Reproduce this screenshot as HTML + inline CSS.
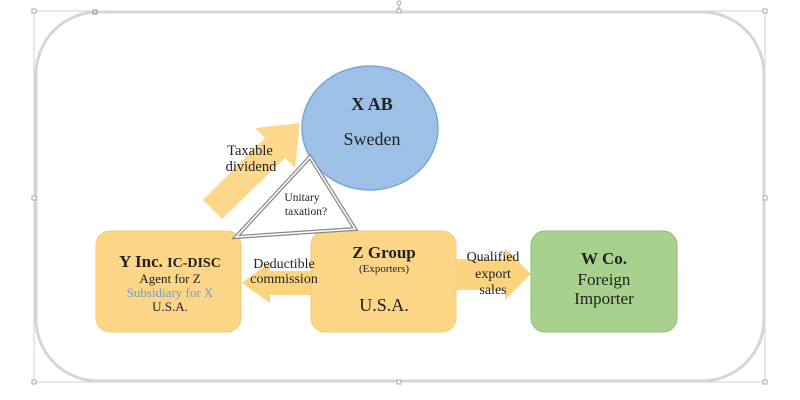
<!DOCTYPE html>
<html><head><style>body{margin:0;background:#fff}svg{display:block}text{font-family:"Liberation Serif",serif;fill:#222}</style></head><body>
<svg width="800" height="400" viewBox="0 0 800 400" xmlns="http://www.w3.org/2000/svg">
<rect x="34" y="11" width="731" height="371" fill="none" stroke="#d0d0d0" stroke-width="1"/>
<rect x="36" y="12" width="728" height="369" rx="62" fill="#fff" stroke="#d3d6da" stroke-width="3"/>
<g fill="#fff" stroke="#aaa" stroke-width="1"><rect x="32" y="9" width="4" height="4"/><rect x="397" y="9" width="4" height="4"/><rect x="763" y="9" width="4" height="4"/><rect x="32" y="196" width="4" height="4"/><rect x="763" y="196" width="4" height="4"/><rect x="32" y="380" width="4" height="4"/><rect x="397" y="380" width="4" height="4"/><rect x="763" y="380" width="4" height="4"/></g>
<rect x="93" y="10" width="4" height="4" fill="#f3e58a" stroke="#999"/>
<line x1="399" y1="3" x2="399" y2="10" stroke="#aaa"/><circle cx="399" cy="3" r="2" fill="#fff" stroke="#aaa"/>
<polygon points="203,200 265,138 255,128 300,123 295,168 285,158 222,219" fill="#fcd37f" opacity="0.9"/>
<ellipse cx="370" cy="128" rx="68" ry="62" fill="#9cc0e6" stroke="#7ba7d8" stroke-width="1.5"/>
<text x="372" y="110" font-size="18" font-weight="bold" text-anchor="middle">X AB</text>
<text x="372" y="145" font-size="18" text-anchor="middle">Sweden</text>
<polygon points="242,283 270,262 270,271 312,271 312,295 270,295 270,303" fill="#fcd37f"/>
<polygon points="454,259 505,259 505,248 531,274 505,300 505,290 454,290" fill="#fcd37f"/>
<rect x="96" y="231" width="145" height="101" rx="14" fill="#fdd587" stroke="#f7cb6e"/>
<rect x="311" y="231" width="145" height="101" rx="14" fill="#fdd587" stroke="#f7cb6e"/>
<rect x="531" y="231" width="146" height="101" rx="14" fill="#a9d18e" stroke="#8fbf72"/>
<polygon points="236,237 310,157 355,229" fill="#fff" fill-opacity="0.6" stroke="#888" stroke-width="4"/>
<polygon points="236,237 310,157 355,229" fill="none" stroke="#fff" stroke-width="1.5"/>
<text x="302" y="201" font-size="11.5" text-anchor="middle">Unitary</text>
<text x="306" y="215" font-size="11.5" text-anchor="middle">taxation?</text>
<text x="250" y="155" font-size="14.5" text-anchor="middle">Taxable</text>
<text x="251" y="171" font-size="14.5" text-anchor="middle">dividend</text>
<text x="284" y="268" font-size="14" text-anchor="middle">Deductible</text>
<text x="284" y="283" font-size="14" text-anchor="middle">commission</text>
<text x="493" y="261" font-size="14" text-anchor="middle">Qualified</text>
<text x="493" y="278" font-size="14" text-anchor="middle">export</text>
<text x="493" y="294" font-size="14" text-anchor="middle">sales</text>
<text x="170" y="267" text-anchor="middle"><tspan font-size="17" font-weight="bold">Y Inc. </tspan><tspan font-size="14" font-weight="bold">IC-DISC</tspan></text>
<text x="170" y="283" font-size="13" text-anchor="middle">Agent for Z</text>
<text x="170" y="297" font-size="13" text-anchor="middle" style="fill:#6ea0cf">Subsidiary for X</text>
<text x="170" y="311" font-size="13" text-anchor="middle">U.S.A.</text>
<text x="384" y="258" font-size="17" font-weight="bold" text-anchor="middle">Z Group</text>
<text x="384" y="272" font-size="11" text-anchor="middle">(Exporters)</text>
<text x="384" y="311" font-size="18" text-anchor="middle">U.S.A.</text>
<text x="604" y="264" font-size="17" font-weight="bold" text-anchor="middle">W Co.</text>
<text x="604" y="285" font-size="17" text-anchor="middle">Foreign</text>
<text x="604" y="304" font-size="17" text-anchor="middle">Importer</text>
</svg>
</body></html>
